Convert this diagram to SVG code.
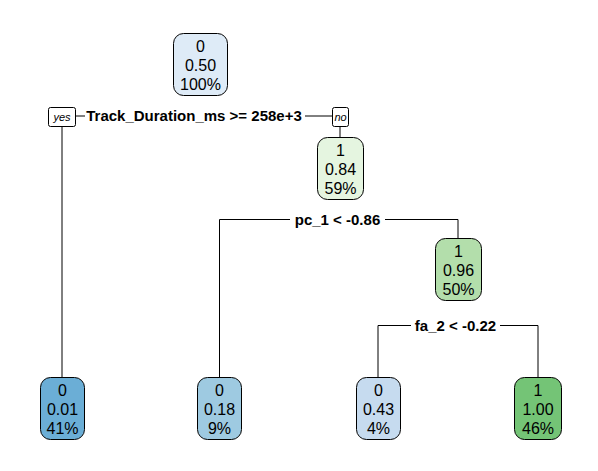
<svg xmlns="http://www.w3.org/2000/svg" width="598" height="471" viewBox="0 0 598 471">
<style>
.box{stroke:#000;stroke-width:1}
.nt{font-family:"Liberation Sans",Arial,sans-serif;font-size:16px;text-anchor:middle;fill:#000}
.sl{font-family:"Liberation Sans",Arial,sans-serif;font-size:15px;font-weight:bold;text-anchor:middle;fill:#000}
.yn{font-family:"Liberation Sans",Arial,sans-serif;font-size:11px;font-style:italic;text-anchor:middle;fill:#000}
.ln{stroke:#000;stroke-width:1;fill:none}
</style>
<rect width="598" height="471" fill="#fff"/>
<g id="connectors">
<path class="ln" d="M62 116H340M62 126V377M340 126V137"/>
<path class="ln" d="M219.5 219.5H458M219.5 219.5V377M458 219.5V238"/>
<path class="ln" d="M378 325.5H538M378 325.5V377M538 325.5V377"/>
</g>
<g id="split1">
<rect x="85" y="107" width="220" height="19" fill="#fff"/>
<text class="sl" x="194" y="121">Track_Duration_ms &gt;= 258e+3</text>
<rect x="48.5" y="107.5" width="27" height="19" rx="2" fill="#fff" class="box"/>
<text class="yn" x="62" y="121">yes</text>
<rect x="332.5" y="107.5" width="16" height="19" rx="2" fill="#fff" class="box"/>
<text class="yn" x="340.5" y="121">no</text>
</g>
<g id="split2">
<rect x="290" y="210" width="95" height="19" fill="#fff"/>
<text class="sl" x="337.5" y="225">pc_1 &lt; -0.86</text>
</g>
<g id="split3">
<rect x="411" y="316" width="89" height="19" fill="#fff"/>
<text class="sl" x="455.5" y="331">fa_2 &lt; -0.22</text>
</g>
<g id="node1">
<rect class="box" x="173.5" y="33.5" width="54" height="62" rx="10" fill="#DEEBF7"/>
<text class="nt" x="200.5" y="52">0</text>
<text class="nt" x="200.5" y="71">0.50</text>
<text class="nt" x="200.5" y="90">100%</text>
</g>
<g id="node2">
<rect class="box" x="317.5" y="137.5" width="46" height="62" rx="10" fill="#E5F5E0"/>
<text class="nt" x="340.5" y="156">1</text>
<text class="nt" x="340.5" y="175">0.84</text>
<text class="nt" x="340.5" y="194">59%</text>
</g>
<g id="node3">
<rect class="box" x="435.5" y="238.5" width="46" height="62" rx="10" fill="#B3DEAB"/>
<text class="nt" x="458.5" y="257">1</text>
<text class="nt" x="458.5" y="276">0.96</text>
<text class="nt" x="458.5" y="295">50%</text>
</g>
<g id="leaf1">
<rect class="box" x="40.5" y="377.5" width="44" height="62" rx="10" fill="#6BAED6"/>
<text class="nt" x="62.5" y="396">0</text>
<text class="nt" x="62.5" y="415">0.01</text>
<text class="nt" x="62.5" y="434">41%</text>
</g>
<g id="leaf2">
<rect class="box" x="197.5" y="377.5" width="44" height="62" rx="10" fill="#9ECAE1"/>
<text class="nt" x="219.5" y="396">0</text>
<text class="nt" x="219.5" y="415">0.18</text>
<text class="nt" x="219.5" y="434">9%</text>
</g>
<g id="leaf3">
<rect class="box" x="356.5" y="377.5" width="44" height="62" rx="10" fill="#C6DBEF"/>
<text class="nt" x="378.5" y="396">0</text>
<text class="nt" x="378.5" y="415">0.43</text>
<text class="nt" x="378.5" y="434">4%</text>
</g>
<g id="leaf4">
<rect class="box" x="514.5" y="377.5" width="47" height="62" rx="10" fill="#74C476"/>
<text class="nt" x="538" y="396">1</text>
<text class="nt" x="538" y="415">1.00</text>
<text class="nt" x="538" y="434">46%</text>
</g>
</svg>
